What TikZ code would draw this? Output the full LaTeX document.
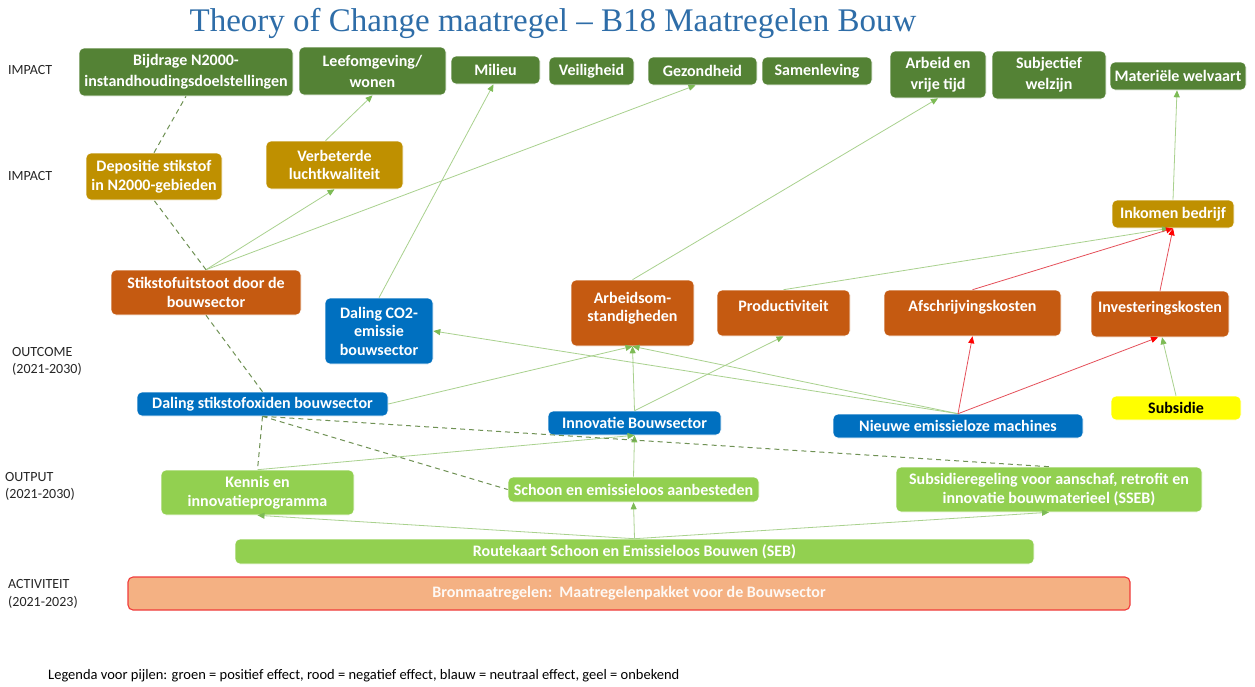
\documentclass[tikz,border=0pt]{standalone}
\usepackage{fontspec}
\setmainfont{Carlito}
\newfontfamily\titlefont{Liberation Serif}
\usetikzlibrary{arrows.meta}
\definecolor{TocTitle}{HTML}{2E6DA8}
\definecolor{TocDarkGreen}{HTML}{548235}
\definecolor{TocGold}{HTML}{BF9000}
\definecolor{TocOrange}{HTML}{C55A11}
\definecolor{TocBlue}{HTML}{0070C0}
\definecolor{TocLightGreen}{HTML}{92D050}
\definecolor{TocYellow}{HTML}{FFFF00}
\definecolor{TocSalmon}{HTML}{F4B183}
\definecolor{TocRed}{HTML}{F03C3C}
\definecolor{WireGreen}{HTML}{A9D18E}
\definecolor{TipGreen}{HTML}{7DBB55}
\definecolor{WireRed}{HTML}{E5505A}
\definecolor{DashGreen}{HTML}{6F9154}
\tikzset{
  box/.style={rounded corners=5pt, draw=white, line width=0.6pt, text=white, align=center,
    font=\fontsize{16}{18.5}\selectfont\bfseries, inner sep=2pt},
  impactbox/.style={box, fill=TocDarkGreen, font=\fontsize{16}{21}\selectfont\bfseries},
  effectbox/.style={box, fill=TocGold},
  outcomebox/.style={box, fill=TocOrange},
  neutralbox/.style={box, fill=TocBlue},
  outputbox/.style={box, fill=TocLightGreen},
  unknownbox/.style={box, fill=TocYellow, text=black},
  activitybox/.style={box, fill=TocSalmon, draw=TocRed, line width=1.1pt, text=white!92!TocSalmon},
  sized/.style 2 args={minimum width=#1, minimum height=#2},
  raised/.style={text height=11pt, text depth=#1},
  tier/.style={font=\fontsize{14}{17.5}\selectfont, align=left, anchor=west, inner sep=0pt, text=black!85},
  poswire/.style={draw=WireGreen, line width=0.8pt, -{Triangle[length=7pt, width=6pt, color=TipGreen]}},
  negwire/.style={draw=WireRed, line width=0.8pt, -{Triangle[length=7pt, width=6pt, color=red]}},
  linkwire/.style={draw=DashGreen, line width=1pt, dash pattern=on 5pt off 4pt}
}

\begin{document}
\begin{tikzpicture}[x=1pt, y=-1pt]
  \path[use as bounding box, fill=white] (0,0) rectangle (1255,686);

  \node[font=\titlefont\fontsize{33}{36}\selectfont, text=TocTitle] (title) at (553,23)
    {Theory of Change maatregel \textendash{} B18 Maatregelen Bouw};

  % levels on the left
  \node[tier] (lvlimpact) at (8,70) {IMPACT};
  \node[tier] (lvleffect) at (8,176) {IMPACT};
  \node[tier] (lvloutcome) at (12,361.5) {OUTCOME\\(2021-2030)};
  \node[tier] (lvloutput) at (5,486.5) {OUTPUT\\(2021-2030)};
  \node[tier] (lvlactivity) at (8,594) {ACTIVITEIT\\(2021-2023)};

  % impact
  \node[impactbox, sized={214pt}{48pt}] (bijdrage) at (186,72) {Bijdrage N2000-\\instandhoudingsdoelstellingen};
  \node[impactbox, sized={147pt}{48pt}] (leefomgeving) at (372.5,71) {Leefomgeving/\\wonen};
  \node[impactbox, sized={89pt}{28pt}] (milieu) at (495.5,70) {Milieu};
  \node[impactbox, sized={85pt}{28pt}] (veiligheid) at (591.5,71) {Veiligheid};
  \node[impactbox, sized={109pt}{28pt}] (gezondheid) at (702.5,71) {Gezondheid};
  \node[impactbox, sized={110pt}{28pt}] (samenleving) at (817,71) {Samenleving};
  \node[impactbox, sized={96pt}{47pt}] (arbeid) at (938,74.5) {Arbeid en\\vrije tijd};
  \node[impactbox, sized={114pt}{48pt}] (welzijn) at (1049,75) {Subjectief\\welzijn};
  \node[impactbox, sized={136pt}{28pt}] (welvaart) at (1178,76) {Materiële welvaart};

  \node[effectbox, sized={136pt}{47pt}] (depositie) at (154,176.5) {Depositie stikstof\\in N2000-gebieden};
  \node[effectbox, sized={137pt}{48pt}] (lucht) at (334.5,165) {Verbeterde\\luchtkwaliteit};
  \node[effectbox, sized={122pt}{28pt}] (inkomen) at (1173,214) {Inkomen bedrijf};

  % outcome
  \node[outcomebox, sized={190pt}{45pt}] (uitstoot) at (206,292.5) {Stikstofuitstoot door de\\bouwsector};
  \node[outcomebox, sized={123pt}{66pt}] (arbeidsom) at (632.5,313) {Arbeidsom-\\standigheden\\[-6pt]\mbox{}};
  \node[outcomebox, raised=15pt, sized={133pt}{46pt}] (productiviteit) at (783.5,313) {Productiviteit};
  \node[outcomebox, raised=15pt, sized={177pt}{46pt}] (afschrijving) at (972.5,313) {Afschrijvingskosten};
  \node[outcomebox, raised=15pt, sized={138pt}{46pt}] (investering) at (1160,314) {Investeringskosten};

  \node[neutralbox, sized={108pt}{66pt}] (co2) at (379,331) {Daling CO2-\\emissie\\bouwsector};
  \node[neutralbox, sized={251pt}{24pt}] (stikstofoxiden) at (262.5,404) {Daling stikstofoxiden bouwsector};
  \node[neutralbox, sized={173pt}{24pt}] (innovatie) at (634.5,423) {Innovatie Bouwsector};
  \node[neutralbox, sized={250pt}{24pt}] (machines) at (958,426) {Nieuwe emissieloze machines};
  \node[unknownbox, sized={130pt}{24pt}] (subsidie) at (1176,408) {Subsidie};

  % output
  \node[outputbox, sized={193pt}{45pt}] (kennis) at (257.5,492.5) {Kennis en\\innovatieprogramma};
  \node[outputbox, sized={251pt}{25pt}] (aanbesteden) at (633.5,489.5) {Schoon en emissieloos aanbesteden};
  \node[outputbox, sized={306pt}{45pt}] (sseb) at (1049,489.5) {Subsidieregeling voor aanschaf, retrofit en\\innovatie bouwmaterieel (SSEB)};
  \node[outputbox, sized={799pt}{25pt}] (routekaart) at (634.5,551.5) {Routekaart Schoon en Emissieloos Bouwen (SEB)};

  % activity
  \node[activitybox, sized={1002pt}{33pt}] (bron) at (629,593.5) {Bronmaatregelen:\ \ Maatregelenpakket voor de Bouwsector};

  \node[font=\fontsize{14.5}{16}\selectfont, anchor=west, inner sep=0pt] (legenda) at (48,676)
    {Legenda voor pijlen: groen = positief effect, rood = negatief effect, blauw = neutraal effect, geel = onbekend};

  % positive effects
  \draw[poswire] (uitstoot.north) -- (lucht.south);
  \draw[poswire] (uitstoot.north) -- ([xshift=-7pt]gezondheid.south);
  \draw[poswire] ([xshift=-9pt]lucht.north) -- (leefomgeving.south);
  \draw[poswire] (co2.north) -- ([xshift=-2pt]milieu.south);
  \draw[poswire] (arbeidsom.north) -- (arbeid.south);
  \draw[poswire] (inkomen.north) -- ([xshift=-1pt]welvaart.south);
  \draw[poswire] (productiviteit.north) -- ([xshift=-4pt]inkomen.south);
  \draw[poswire] (subsidie.north) -- ([xshift=2pt]investering.south);
  \draw[poswire] (machines.north) -- (co2.east);
  \draw[poswire] (machines.north) -- (arbeidsom.south);
  \draw[poswire] (stikstofoxiden.east) -- (arbeidsom.south);
  \draw[poswire] (innovatie.north) -- (arbeidsom.south);
  \draw[poswire] (innovatie.north) -- (productiviteit.south);
  \draw[poswire] (kennis.north) -- (innovatie.south);
  \draw[poswire] (aanbesteden.north) -- (innovatie.south);
  \draw[poswire] (routekaart.north) -- (aanbesteden.south);
  \draw[poswire] (routekaart.north) -- (kennis.south);
  \draw[poswire] (routekaart.north) -- (sseb.south);

  % negative effects
  \draw[negwire] (afschrijving.north) -- (inkomen.south);
  \draw[negwire] (investering.north) -- (inkomen.south);
  \draw[negwire] (machines.north) -- (afschrijving.south);
  \draw[negwire] (machines.north) -- ([xshift=-2pt]investering.south);

  % dashed links
  \draw[linkwire] (depositie.north) -- (bijdrage.south);
  \draw[linkwire] (uitstoot.north) -- (depositie.south);
  \draw[linkwire] (uitstoot.south) -- (stikstofoxiden.north);
  \draw[linkwire] (stikstofoxiden.south) -- (kennis.north);
  \draw[linkwire] (stikstofoxiden.south) -- (aanbesteden.west);
  \draw[linkwire] (stikstofoxiden.south) -- (sseb.north);
\end{tikzpicture}
\end{document}
